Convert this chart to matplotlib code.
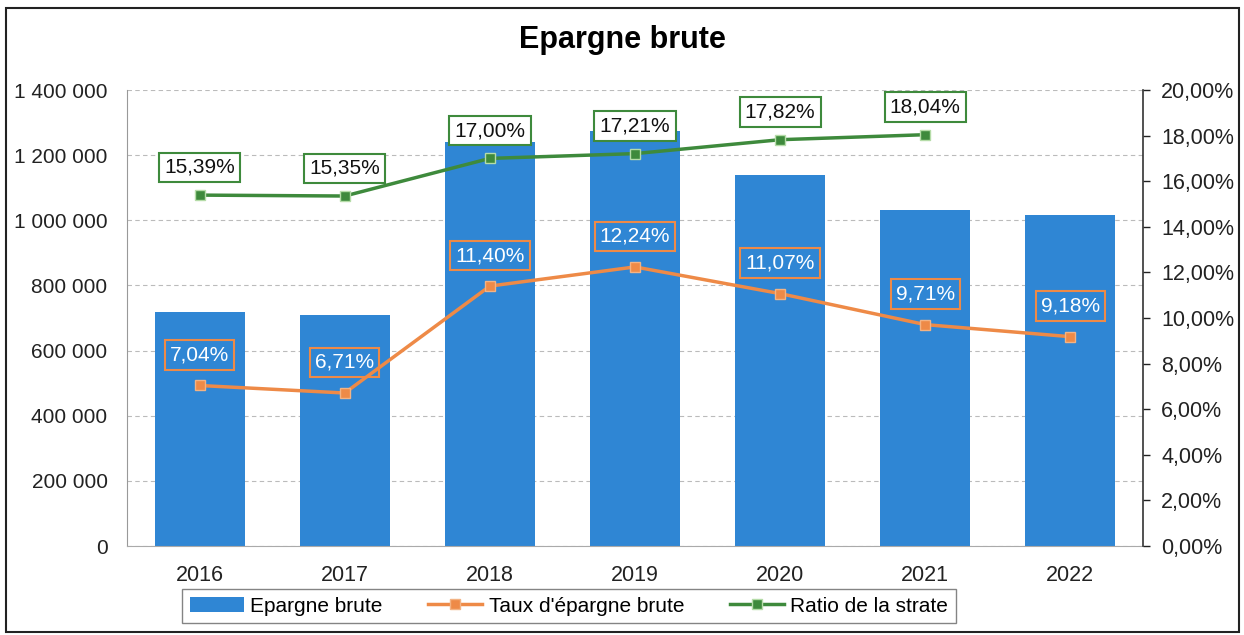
import matplotlib.pyplot as plt
import numpy as np
from matplotlib.patches import Rectangle

plt.rcParams['font.family'] = ['Liberation Sans', 'DejaVu Sans']

# Data
years = ['2016', '2017', '2018', '2019', '2020', '2021', '2022']
epargne = [718000, 709000, 1240000, 1274000, 1139000, 1032000, 1016000]
taux = [7.04, 6.71, 11.40, 12.24, 11.07, 9.71, 9.18]
strate_years = ['2016', '2017', '2018', '2019', '2020', '2021']
strate = [15.39, 15.35, 17.00, 17.21, 17.82, 18.04]

blue = '#2F86D4'
orange = '#EE8A47'
green = '#3E8A3C'

def fr(v):
    return f'{v:.2f}'.replace('.', ',') + '%'

fig = plt.figure(figsize=(12.44, 6.35), dpi=100)
ax = fig.add_axes([127/1244, 1 - 546/635, (1143-127)/1244, (546-90)/635])
ax2 = ax.twinx()

x = np.arange(len(years))
bars = ax.bar(x, epargne, width=0.62, color=blue, label='Epargne brute', zorder=2)
ax.set_ylim(0, 1400000)
ax.set_xlim(-0.5, len(years) - 0.5)
ax.set_yticks(np.arange(0, 1400001, 200000))
ax.set_yticklabels([f'{v:,}'.replace(',', ' ') for v in range(0, 1400001, 200000)])
ax.set_xticks(x)
ax.set_xticklabels(years)
ax.tick_params(axis='both', labelsize=15.5, length=0, colors='#222222')
ax.tick_params(axis='x', pad=14)
ax.tick_params(axis='y', labelsize=15, pad=14)
ax.grid(axis='y', color='#bbbbbb', linestyle=(0, (4, 3)), linewidth=0.8, zorder=0)
ax.set_axisbelow(True)
for s in ['top', 'right']:
    ax.spines[s].set_visible(False)
ax.spines['left'].set_color('#999999')
ax.spines['bottom'].set_color('#aaaaaa')

l1, = ax2.plot(x, taux, color=orange, linewidth=2.5, marker='s', markersize=7,
               markerfacecolor=orange, markeredgecolor='#f3b384',
               label="Taux d'épargne brute", zorder=3)
xs = np.arange(len(strate_years))
l2, = ax2.plot(xs, strate, color=green, linewidth=2.5, marker='s', markersize=7,
               markerfacecolor=green, markeredgecolor='#b5dca8',
               label='Ratio de la strate', zorder=3)
ax2.set_ylim(0, 20)
ax2.set_yticks(np.arange(0, 20.01, 2))
ax2.set_yticklabels([f'{v:.2f}'.replace('.', ',') + '%' for v in np.arange(0, 20.01, 2)])
ax2.tick_params(axis='y', labelsize=15.5, colors='#222222', length=5, width=1,
                direction='out', pad=8)
for s in ['top', 'left', 'bottom']:
    ax2.spines[s].set_visible(False)
ax2.spines['right'].set_color('#333333')
ax2.spines['right'].set_linewidth(1.2)

for xi, v in zip(x, taux):
    ax2.annotate(fr(v), (xi, v), xytext=(0, 22), textcoords='offset points',
                 ha='center', va='center', fontsize=15, color='white',
                 bbox=dict(boxstyle='square,pad=0.25', facecolor='none',
                           edgecolor=orange, linewidth=1.5), zorder=4)
for xi, v in zip(xs, strate):
    ax2.annotate(fr(v), (xi, v), xytext=(0, 20), textcoords='offset points',
                 ha='center', va='center', fontsize=15, color='#111111',
                 bbox=dict(boxstyle='square,pad=0.25', facecolor='white',
                           edgecolor=green, linewidth=1.5), zorder=4)

fig.suptitle('Epargne brute', fontsize=22, fontweight='bold', y=1 - 40/635, va='center')

handles = [bars, l1, l2]
leg = fig.legend(handles, ['Epargne brute', "Taux d'épargne brute", 'Ratio de la strate'],
                 ncol=3, loc='center', bbox_to_anchor=(569/1244, 1 - 606/635),
                 fontsize=15, frameon=True, fancybox=False, edgecolor='#666666',
                 handlelength=2.6, handletextpad=0.3, columnspacing=2.2,
                 borderpad=0.35)
leg.get_frame().set_linewidth(1)

fig.patches.append(Rectangle((6/1244, 3/635), 1233/1244, 624/635,
                             transform=fig.transFigure, fill=False,
                             edgecolor='#222222', linewidth=1.5))

fig.savefig('out.png', dpi=100)
